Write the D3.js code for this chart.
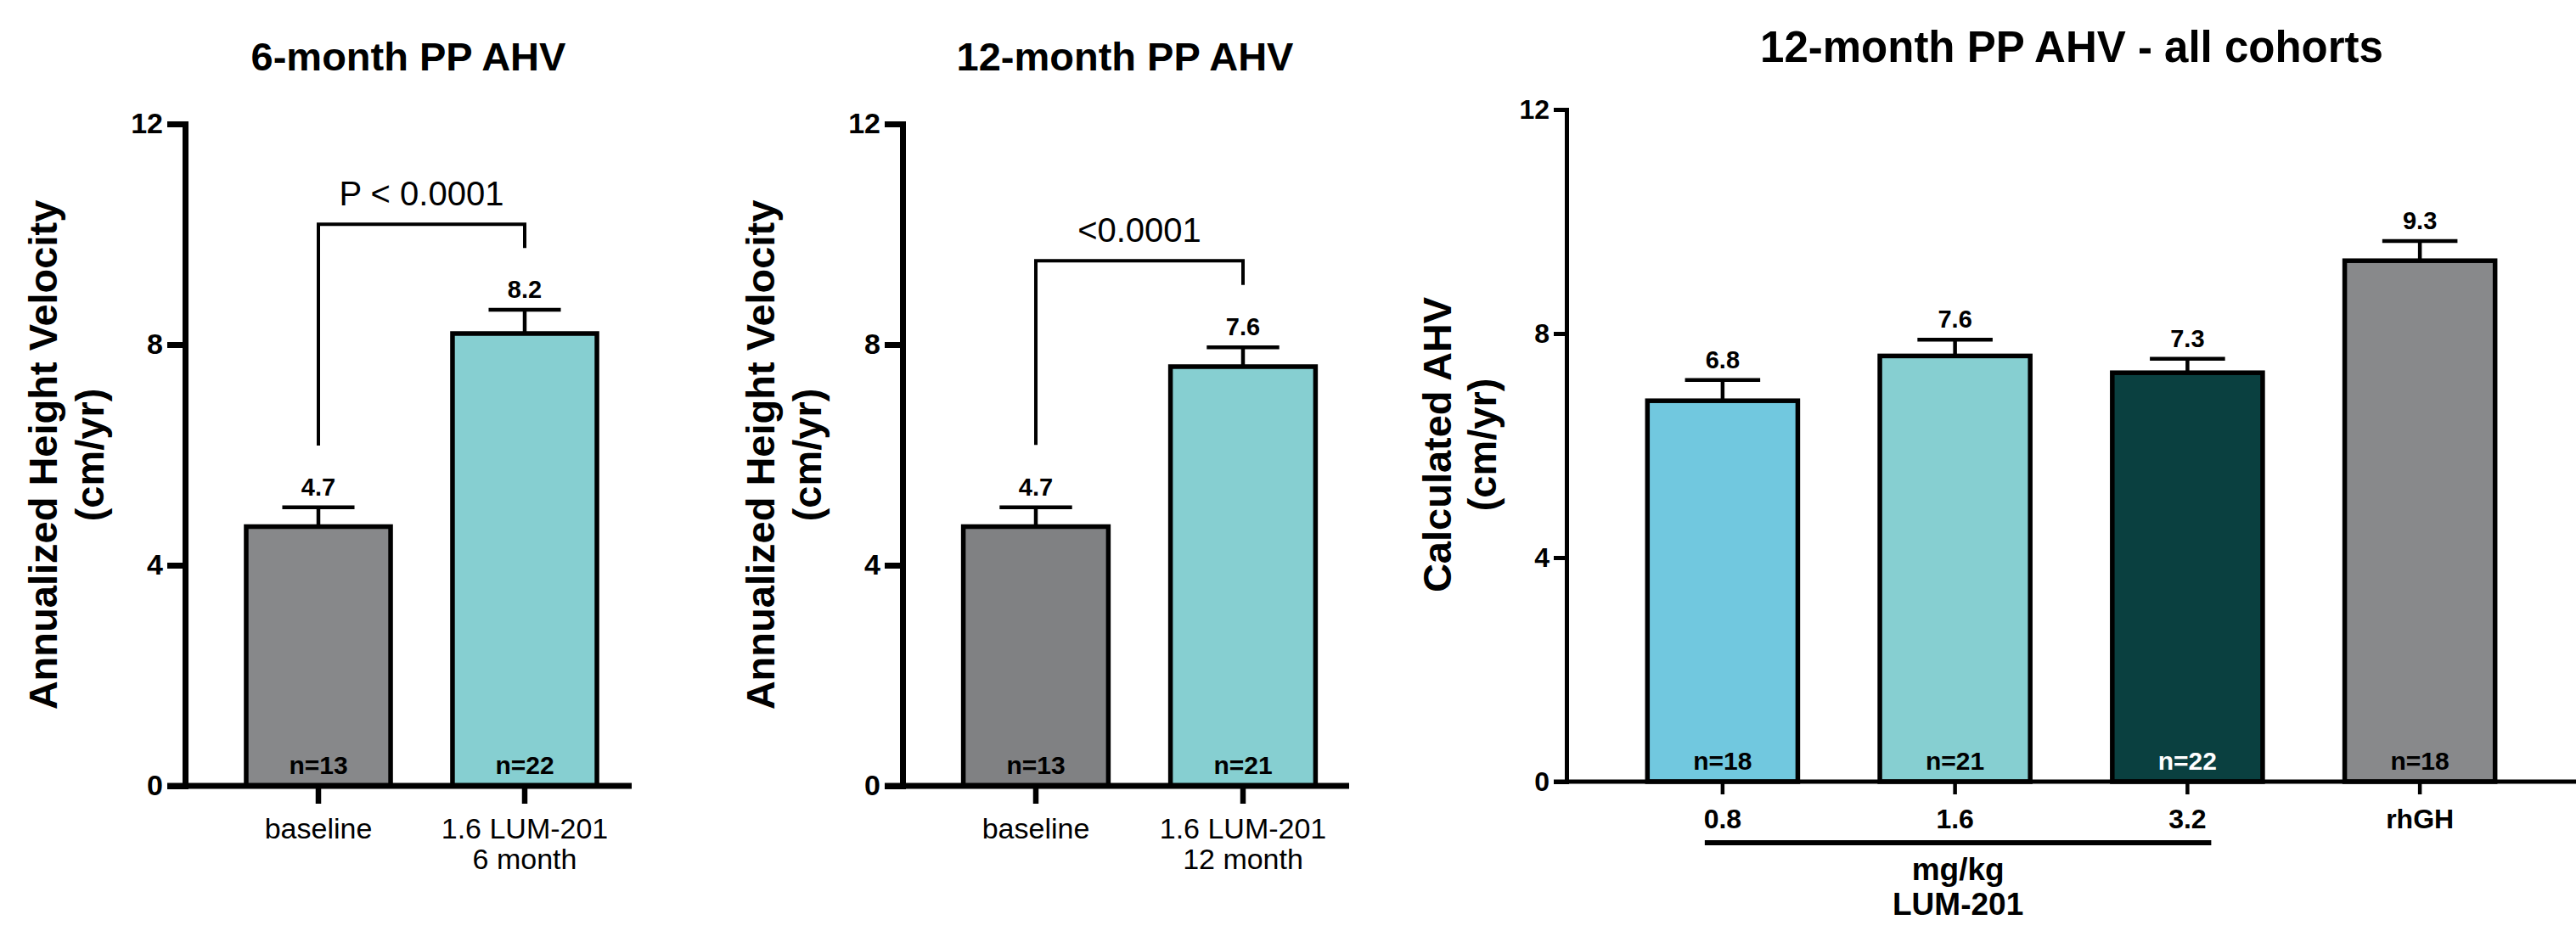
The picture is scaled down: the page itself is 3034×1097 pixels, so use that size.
<!DOCTYPE html>
<html><head><meta charset="utf-8">
<script src="https://cdn.jsdelivr.net/npm/d3@7"></script>
<style>
html,body{margin:0;padding:0;background:#fff;}
svg{display:block;}
text{font-family:"Liberation Sans", Arial, Helvetica, sans-serif;}
</style></head><body>
<svg id="chart" width="3034" height="1097"></svg>
<script>
// ---------------- data ----------------
const yTicks = [0, 4, 8, 12];

const p1Title = "6-month PP AHV";
const p1YLabel = ["Annualized Height Velocity", "(cm/yr)"];
const p1Categories = ["baseline", "1.6 LUM-201|6 month"];
const p1Values = [4.7, 8.2];
const p1ErrorTop = [5.05, 8.63];
const p1N = ["n=13", "n=22"];
const p1Colors = ["#87888a", "#86cfd1"];
const p1Bracket = {label: "P < 0.0001", top: 10.18, leftEnd: 6.17, rightEnd: 9.75};

const p2Title = "12-month PP AHV";
const p2YLabel = ["Annualized Height Velocity", "(cm/yr)"];
const p2Categories = ["baseline", "1.6 LUM-201|12 month"];
const p2Values = [4.7, 7.6];
const p2ErrorTop = [5.05, 7.95];
const p2N = ["n=13", "n=21"];
const p2Colors = ["#808183", "#86cfd1"];
const p2Bracket = {label: "<0.0001", top: 9.52, leftEnd: 6.18, rightEnd: 9.08};

const p3Title = "12-month PP AHV - all cohorts";
const p3YLabel = ["Calculated AHV", "(cm/yr)"];
const p3Categories = ["0.8", "1.6", "3.2", "rhGH"];
const p3Values = [6.8, 7.6, 7.3, 9.3];
const p3ErrorTop = [7.17, 7.89, 7.55, 9.65];
const p3N = ["n=18", "n=21", "n=22", "n=18"];
const p3Colors = ["#71c8df", "#86cfd1", "#0a4040", "#88898b"];
const p3GroupLabel = ["mg/kg", "LUM-201"];
const p3GroupMembers = ["0.8", "1.6", "3.2"];

// ---------------- layout ----------------
const svg = d3.select("#chart");

const panels = [
  {title: p1Title, ylab: p1YLabel, cats: p1Categories, vals: p1Values, err: p1ErrorTop, n: p1N, colors: p1Colors, bracket: p1Bracket,
   axisX: 218, yTop: 146, yBottom: 926, band: [253.5, 739.5], pInner: 0.30, xEnd: 744,
   axisW: 7, tickLen: 21, tickFont: 34, titleX: 481, titleY: 83, titleSize: 47,
   ylabX: [67, 122], ylabY: 536, ylabSize: 47, xlabBold: false, xlabSize: 34, xlabDy: [62, 98]},
  {title: p2Title, ylab: p2YLabel, cats: p2Categories, vals: p2Values, err: p2ErrorTop, n: p2N, colors: p2Colors, bracket: p2Bracket,
   axisX: 1063, yTop: 146, yBottom: 926, band: [1098, 1586], pInner: 0.30, xEnd: 1589,
   axisW: 7, tickLen: 21, tickFont: 34, titleX: 1325, titleY: 83, titleSize: 47,
   ylabX: [912, 967], ylabY: 536, ylabSize: 47, xlabBold: false, xlabSize: 34, xlabDy: [62, 98]},
  {title: p3Title, ylab: p3YLabel, cats: p3Categories, vals: p3Values, err: p3ErrorTop, n: p3N, colors: p3Colors, bracket: null,
   axisX: 1845, yTop: 129, yBottom: 921, band: [1892, 2987], pInner: 0.353, xEnd: 3034,
   axisW: 5, tickLen: 15, tickFont: 32, titleX: 2440, titleY: 73, titleSize: 51,
   ylabX: [1709, 1762], ylabY: 524, ylabSize: 47, xlabBold: true, xlabSize: 32, xlabDy: [55, 91]}
];

panels.forEach((p, pi) => {
  const g = svg.append("g");
  const y = d3.scaleLinear().domain([0, 12]).range([p.yBottom, p.yTop]);
  const x = d3.scaleBand().domain(p.cats).range(p.band).paddingInner(p.pInner).paddingOuter(p.pInner / 2);
  const bw = x.bandwidth();
  const data = p.cats.map((c, i) => ({cat: c, v: p.vals[i], e: p.err[i], n: p.n[i], col: p.colors[i]}));

  // title
  g.append("text").attr("x", p.titleX).attr("y", p.titleY).attr("text-anchor", "middle")
    .attr("font-weight", "bold").attr("font-size", p.titleSize).text(p.title);

  // y label
  p.ylab.forEach((t, k) => {
    g.append("text").attr("transform", `translate(${p.ylabX[k]},${p.ylabY}) rotate(-90)`)
      .attr("text-anchor", "middle").attr("font-weight", "bold").attr("font-size", p.ylabSize).text(t);
  });

  // bars
  g.selectAll("rect.bar").data(data).enter().append("rect")
    .attr("x", d => x(d.cat)).attr("width", bw)
    .attr("y", d => y(d.v)).attr("height", d => y(0) - y(d.v))
    .attr("fill", d => d.col).attr("stroke", "#000").attr("stroke-width", 5.5);

  // error bars
  const eb = g.selectAll("g.err").data(data).enter().append("g");
  eb.append("line").attr("x1", d => x(d.cat) + bw / 2).attr("x2", d => x(d.cat) + bw / 2)
    .attr("y1", d => y(d.v)).attr("y2", d => y(d.e)).attr("stroke", "#000").attr("stroke-width", 4.5);
  eb.append("line").attr("x1", d => x(d.cat) + bw / 2 - bw * 0.25).attr("x2", d => x(d.cat) + bw / 2 + bw * 0.25)
    .attr("y1", d => y(d.e)).attr("y2", d => y(d.e)).attr("stroke", "#000").attr("stroke-width", 4.5);

  // value labels
  g.selectAll("text.val").data(data).enter().append("text")
    .attr("x", d => x(d.cat) + bw / 2).attr("y", d => y(d.e) - 14)
    .attr("text-anchor", "middle").attr("font-weight", "bold").attr("font-size", 29)
    .text(d => d3.format(".1f")(d.v));

  // n labels
  g.selectAll("text.n").data(data).enter().append("text")
    .attr("x", d => x(d.cat) + bw / 2).attr("y", y(0) - 14)
    .attr("text-anchor", "middle").attr("font-weight", "bold").attr("font-size", 30)
    .attr("fill", d => d3.hsl(d.col).l < 0.35 ? "#fff" : "#000")
    .text(d => d.n);

  // y axis
  const yAxis = d3.axisLeft(y).tickValues(yTicks).tickSize(p.tickLen).tickSizeOuter(0).tickPadding(5)
    .tickFormat(d3.format("d"));
  const ya = g.append("g").attr("transform", `translate(${p.axisX},0)`).call(yAxis);
  ya.select(".domain").attr("stroke", "#000").attr("stroke-width", p.axisW).attr("stroke-linecap", "square");
  ya.selectAll(".tick line").attr("stroke", "#000").attr("stroke-width", p.axisW);
  ya.selectAll(".tick text").attr("font-size", p.tickFont).attr("font-weight", "bold").attr("fill", "#000")
    .attr("font-family", "'Liberation Sans', Arial, sans-serif");

  // x baseline
  g.append("line").attr("x1", p.axisX - p.tickLen).attr("x2", p.xEnd)
    .attr("y1", y(0)).attr("y2", y(0)).attr("stroke", "#000").attr("stroke-width", p.axisW);

  // x axis ticks & labels
  const xAxis = d3.axisBottom(x).tickSize(p.tickLen).tickSizeOuter(0).tickFormat("");
  const xa = g.append("g").attr("transform", `translate(0,${y(0)})`).call(xAxis);
  xa.select(".domain").remove();
  xa.selectAll(".tick line").attr("stroke", "#000").attr("stroke-width", p.axisW - 0.5);
  xa.selectAll(".tick").each(function(d) {
    const t = d3.select(this).append("text").attr("text-anchor", "middle").attr("fill", "#000")
      .attr("font-size", p.xlabSize).attr("font-weight", p.xlabBold ? "bold" : "normal")
      .attr("font-family", "'Liberation Sans', Arial, sans-serif");
    d.split("|").forEach((line, k) => {
      t.append("tspan").attr("x", 0).attr("y", p.xlabDy[k]).text(line);
    });
  });

  // significance bracket
  if (p.bracket) {
    const b = p.bracket;
    const xl = x(p.cats[0]) + bw / 2, xr = x(p.cats[1]) + bw / 2;
    g.append("path")
      .attr("d", `M${xl},${y(b.leftEnd)}V${y(b.top)}H${xr}V${y(b.rightEnd)}`)
      .attr("fill", "none").attr("stroke", "#000").attr("stroke-width", 4);
    g.append("text").attr("x", (xl + xr) / 2).attr("y", y(b.top) - 22).attr("text-anchor", "middle")
      .attr("font-size", 40).text(b.label);
  }

  // group label under dose categories
  if (pi === 2) {
    const gx1 = x(p3GroupMembers[0]) + bw / 2 - 21;
    const gx2 = x(p3GroupMembers[p3GroupMembers.length - 1]) + bw / 2 + 28;
    g.append("line").attr("x1", gx1).attr("x2", gx2).attr("y1", y(0) + 72).attr("y2", y(0) + 72)
      .attr("stroke", "#000").attr("stroke-width", 6);
    p3GroupLabel.forEach((t, k) => {
      g.append("text").attr("x", (gx1 + gx2) / 2).attr("y", y(0) + 116 + k * 41).attr("text-anchor", "middle")
        .attr("font-weight", "bold").attr("font-size", 37).text(t);
    });
  }
});
</script>
</body></html>
